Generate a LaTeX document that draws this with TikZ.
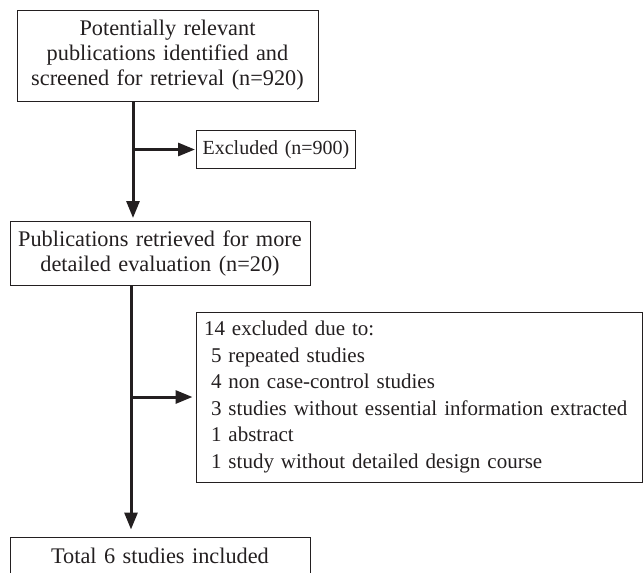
\documentclass[tikz,border=0pt]{standalone}
\usepackage{fontspec}
\setmainfont{Liberation Serif}
\usetikzlibrary{arrows.meta}
\definecolor{ink}{HTML}{231F20}
\begin{document}
\begin{tikzpicture}[x=1pt,y=-1pt,
  box/.style={draw=ink, line width=1pt, inner sep=0pt, text=ink},
  txt/.style={font=\fontsize{22.3}{25}\selectfont},
  txts/.style={font=\fontsize{20}{25}\selectfont},
  txtb/.style={font=\fontsize{21}{26.6}\selectfont},
  arr/.style={draw=ink, line width=3pt, -{Triangle[length=17pt,width=13pt]}}]
\useasboundingbox (0,0) rectangle (643,573);
\clip (0,0) rectangle (643,573);
\node[box, txt, minimum width=301pt, minimum height=91pt, text width=298pt, align=center] (b1) at (167.5,55.5)
  {Potentially relevant\\publications identified and\\screened for retrieval (n=920)};
\node[box, txts, minimum width=159pt, minimum height=38pt, text width=155pt, align=center, anchor=west] (ex) at (196,149.5)
  {Excluded (n=900)};
\node[box, txt, minimum width=300pt, minimum height=64pt, text width=296pt, align=center] (b2) at (160,253.5)
  {Publications retrieved for more\\detailed evaluation (n=20)};
\node[box, txtb, minimum width=446pt, minimum height=170pt, text width=430pt, align=left] (big) at (419,397)
  {14 excluded due to:\\
   \hspace*{7pt}5 repeated studies\\
   \hspace*{7pt}4 non case-control studies\\
   \hspace*{7pt}3 studies without essential information extracted\\
   \hspace*{7pt}1 abstract\\
   \hspace*{7pt}1 study without detailed design course};
\node[box, txt, minimum width=300pt, minimum height=38pt, text width=296pt, align=center] (b3) at (160,556)
  {Total 6 studies included};
\coordinate (s1) at (133,0);
\coordinate (s2) at (131,0);
\draw[arr, shorten >=3pt] (b1.south -| s1) -- (b2.north -| s1);
\draw[arr, shorten >=1pt] (s1 |- ex.west) -- (ex.west);
\draw[arr, shorten >=7pt] (b2.south -| s2) -- (b3.north -| s2);
\draw[arr, shorten >=3pt] (s2 |- big.west) -- (big.west);
\end{tikzpicture}
\end{document}
